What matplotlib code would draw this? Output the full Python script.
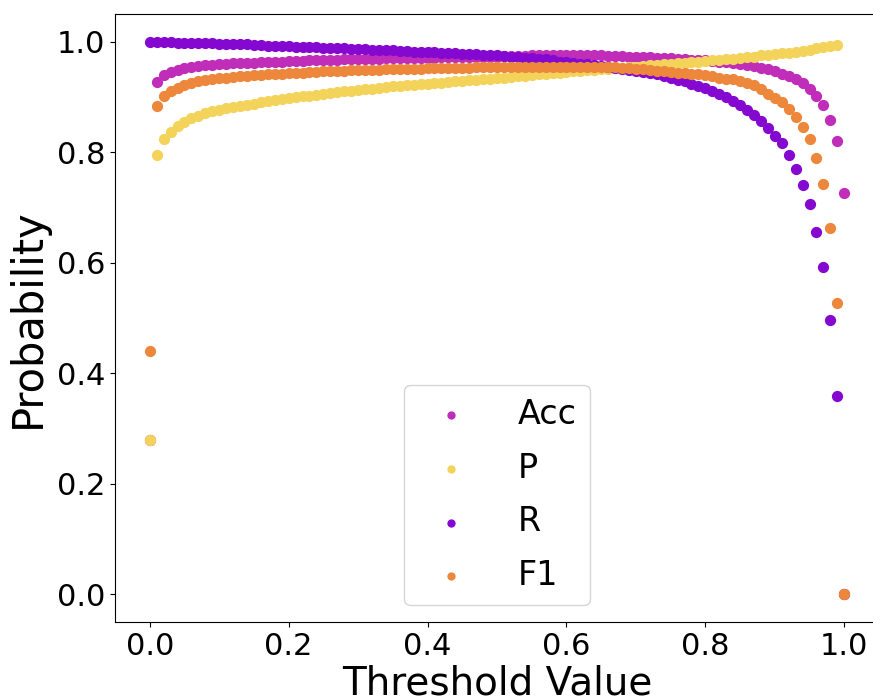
import numpy as np
import matplotlib
matplotlib.use("Agg")
import matplotlib.pyplot as plt

thresholds = np.round(np.linspace(0, 1, 101), 2)

acc = [0.280, 0.927, 0.940, 0.945, 0.949, 0.952, 0.954, 0.956, 0.957, 0.958,
       0.959, 0.960, 0.961, 0.961, 0.962, 0.962, 0.963, 0.963, 0.964, 0.964,
       0.965, 0.965, 0.965, 0.966, 0.966, 0.967, 0.967, 0.967, 0.968, 0.968,
       0.968, 0.969, 0.969, 0.969, 0.970, 0.970, 0.970, 0.970, 0.971, 0.971,
       0.971, 0.971, 0.972, 0.972, 0.972, 0.972, 0.972, 0.973, 0.973, 0.973,
       0.973, 0.974, 0.974, 0.974, 0.974, 0.975, 0.975, 0.975, 0.975, 0.975,
       0.975, 0.975, 0.975, 0.975, 0.975, 0.975, 0.974, 0.974, 0.974, 0.973,
       0.973, 0.972, 0.972, 0.971, 0.970, 0.970, 0.969, 0.968, 0.967, 0.967,
       0.966, 0.965, 0.964, 0.963, 0.961, 0.960, 0.958, 0.956, 0.953, 0.950,
       0.946, 0.942, 0.938, 0.932, 0.926, 0.915, 0.902, 0.886, 0.858, 0.820,
       0.727]

prec = [0.280, 0.794, 0.823, 0.837, 0.848, 0.855, 0.861, 0.866, 0.870, 0.874,
        0.877, 0.880, 0.882, 0.884, 0.886, 0.888, 0.890, 0.892, 0.894, 0.896,
        0.898, 0.899, 0.901, 0.902, 0.904, 0.905, 0.907, 0.908, 0.910, 0.911,
        0.912, 0.914, 0.915, 0.916, 0.918, 0.919, 0.920, 0.921, 0.922, 0.923,
        0.924, 0.925, 0.926, 0.927, 0.928, 0.929, 0.930, 0.931, 0.932, 0.933,
        0.934, 0.935, 0.936, 0.937, 0.938, 0.939, 0.941, 0.942, 0.943, 0.944,
        0.945, 0.946, 0.947, 0.948, 0.949, 0.950, 0.951, 0.952, 0.953, 0.954,
        0.955, 0.956, 0.957, 0.958, 0.959, 0.960, 0.961, 0.962, 0.963, 0.964,
        0.965, 0.966, 0.967, 0.968, 0.969, 0.971, 0.972, 0.973, 0.975, 0.976,
        0.978, 0.979, 0.980, 0.982, 0.983, 0.985, 0.988, 0.991, 0.993, 0.994,
        0.000]

rec = [1.000, 0.9995, 0.999, 0.999, 0.998, 0.998, 0.998, 0.997, 0.997, 0.997,
       0.996, 0.996, 0.995, 0.995, 0.995, 0.994, 0.994, 0.993, 0.993, 0.992,
       0.992, 0.991, 0.991, 0.990, 0.990, 0.989, 0.989, 0.988, 0.988, 0.987,
       0.987, 0.986, 0.985, 0.985, 0.984, 0.984, 0.983, 0.983, 0.982, 0.982,
       0.981, 0.981, 0.980, 0.980, 0.979, 0.978, 0.978, 0.977, 0.976, 0.976,
       0.975, 0.974, 0.973, 0.972, 0.971, 0.970, 0.969, 0.968, 0.966, 0.964,
       0.963, 0.961, 0.960, 0.959, 0.957, 0.956, 0.954, 0.952, 0.950, 0.948,
       0.946, 0.945, 0.943, 0.941, 0.938, 0.934, 0.931, 0.928, 0.924, 0.920,
       0.916, 0.911, 0.905, 0.899, 0.892, 0.885, 0.876, 0.867, 0.857, 0.843,
       0.829, 0.816, 0.794, 0.769, 0.740, 0.706, 0.656, 0.593, 0.496, 0.359,
       0.000]

f1 = [0.440, 0.884, 0.901, 0.911, 0.917, 0.922, 0.925, 0.928, 0.930, 0.932,
      0.934, 0.935, 0.936, 0.937, 0.938, 0.939, 0.940, 0.941, 0.942, 0.942,
      0.943, 0.944, 0.944, 0.945, 0.945, 0.946, 0.946, 0.947, 0.947, 0.948,
      0.948, 0.948, 0.949, 0.949, 0.950, 0.950, 0.950, 0.951, 0.951, 0.951,
      0.952, 0.952, 0.952, 0.953, 0.953, 0.953, 0.953, 0.954, 0.954, 0.954,
      0.954, 0.955, 0.955, 0.955, 0.955, 0.955, 0.955, 0.955, 0.955, 0.955,
      0.955, 0.955, 0.955, 0.955, 0.955, 0.954, 0.954, 0.954, 0.953, 0.952,
      0.951, 0.950, 0.948, 0.947, 0.946, 0.945, 0.944, 0.943, 0.942, 0.941,
      0.939, 0.937, 0.935, 0.933, 0.932, 0.929, 0.926, 0.921, 0.914, 0.906,
      0.898, 0.891, 0.878, 0.863, 0.846, 0.824, 0.790, 0.742, 0.662, 0.528,
      0.000]

labels = ["Acc", "P", "R", "F1"]
colors = ["#c02db9", "#f4d35a", "#8508d0", "#ec873c"]
series = [acc, prec, rec, f1]

fig = plt.figure(figsize=(8.73, 6.97), dpi=100)
ax = fig.add_axes([115 / 873, 75 / 697, 764 / 873, 608 / 697])

for vals, lab, col in zip(series, labels, colors):
    ax.scatter(thresholds, vals, s=50, color=col, label=lab, zorder=3)

ax.set_xlabel("Threshold Value", fontsize=28, labelpad=3)
ax.set_ylabel("Probability", fontsize=30, labelpad=6)
ax.tick_params(axis="both", labelsize=22)
ax.set_xticks([0.0, 0.2, 0.4, 0.6, 0.8, 1.0])
ax.set_yticks([0.0, 0.2, 0.4, 0.6, 0.8, 1.0])

ax.legend(loc="lower center", fontsize=24, markerscale=0.7,
          handletextpad=1.0, labelspacing=0.62)

fig.savefig("out.png", dpi=100)
